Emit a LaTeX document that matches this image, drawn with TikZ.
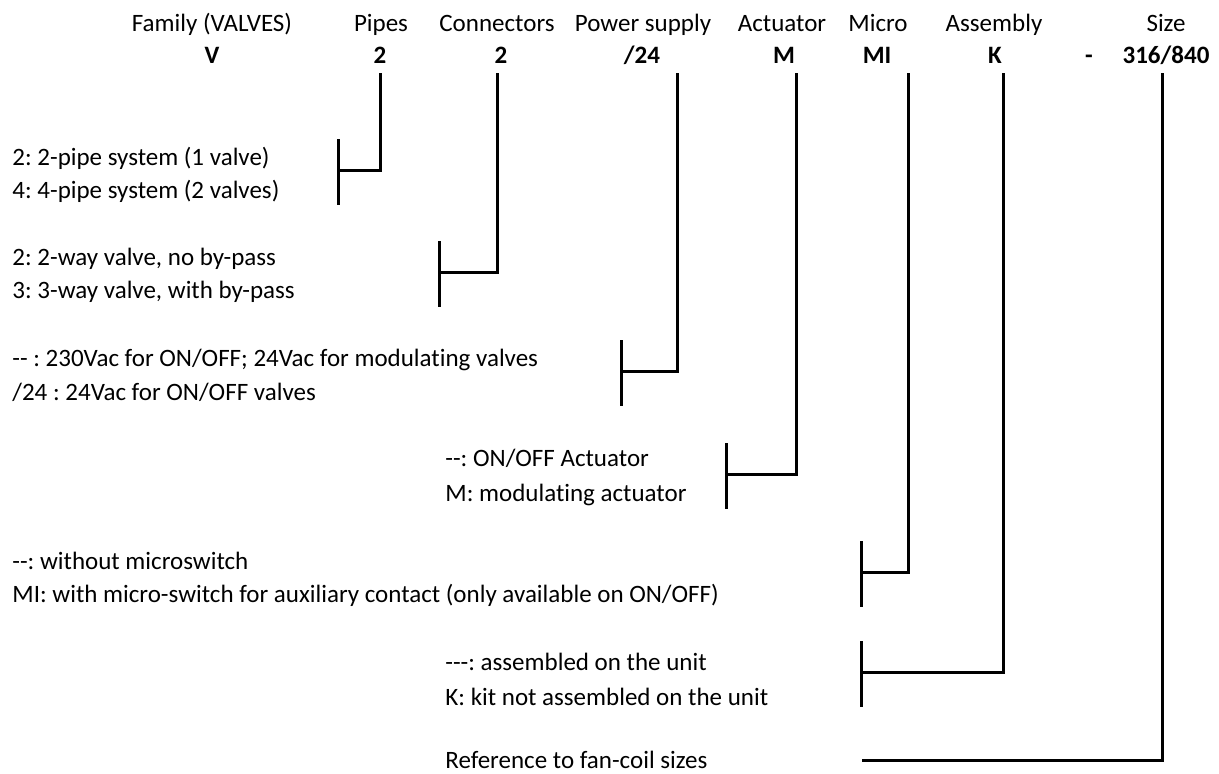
\documentclass[tikz,border=0pt]{standalone}
\usepackage{fontspec}
\setmainfont{Carlito}[Ligatures=NoCommon]
\newcommand\keysize{\fontsize{12.5}{15}\selectfont}
\tikzset{
  head/.style={anchor=base, inner sep=0pt},
  code/.style={font=\keysize\bfseries, anchor=base, text depth=0pt, inner xsep=0pt, inner ysep=5pt},
  opt/.style={anchor=base west, inner sep=0pt},
  link/.style={line width=1.5pt},
}

\begin{document}
\frenchspacing
\begin{tikzpicture}[x=0.5pt, y=-0.5pt, font=\keysize]
  \useasboundingbox (0,0) rectangle (1219,773);

  % column headings
  \node[head] (hFamily) at (212,31) {Family (VALVES)};
  \node[head] (hPipes)  at (381,31) {Pipes};
  \node[head] (hConn)   at (497,31) {Connectors};
  \node[head] (hPower)  at (643,31) {Power supply};
  \node[head] (hAct)    at (782,31) {Actuator};
  \node[head] (hMicro)  at (878,31) {Micro};
  \node[head] (hAsm)    at (994,31) {Assembly};
  \node[head] (hSize)   at (1166,31) {Size};

  % code letters
  \node[code] (cFamily) at (212,63) {V};
  \node[code] (cPipes)  at (380,63) {2};
  \node[code] (cConn)   at (501,63) {2};
  \node[code] (cPower)  at (642,63) {/24};
  \node[code] (cAct)    at (784,63) {M};
  \node[code] (cMicro)  at (877,63) {MI};
  \node[code] (cAsm)    at (995,63) {K};
  \node[code] (cDash)   at (1089,63) {-};
  \node[code] (cSize)   at (1166,63) {316/840};

  % options
  \node[opt] (oPipes2) at (12,165) {2: 2-pipe system (1 valve)};
  \node[opt] (oPipes4) at (12,198) {4: 4-pipe system (2 valves)};
  \node[opt] (oConn2)  at (12,265) {2: 2-way valve, no by-pass};
  \node[opt] (oConn3)  at (12,298) {3: 3-way valve, with by-pass};
  \node[opt] (oPowerA) at (12,366) {-{}- : 230Vac for ON/OFF; 24Vac for modulating valves};
  \node[opt] (oPowerB) at (12,400) {/24 : 24Vac for ON/OFF valves};
  \node[opt] (oActA)   at (445,466) {-{}-: ON/OFF Actuator};
  \node[opt] (oActM)   at (445,501) {M: modulating actuator};
  \node[opt] (oMicroA) at (12,569) {-{}-: without microswitch};
  \node[opt] (oMicroB) at (12,602) {MI: with micro-switch for auxiliary contact (only available on ON/OFF)};
  \node[opt] (oAsmA)   at (445,670) {-{}-{}-: assembled on the unit};
  \node[opt] (oAsmK)   at (445,705) {K: kit not assembled on the unit};
  \node[opt] (oSize)   at (445,768) {Reference to fan-coil sizes};

  % bracket points
  \coordinate (bPipes) at (338,170);
  \coordinate (bConn)  at (439,272);
  \coordinate (bPower) at (621,371);
  \coordinate (bAct)   at (726,474);
  \coordinate (bMicro) at (861,572);
  \coordinate (bAsm)   at (861,672);
  \coordinate (bSize)  at (862,760);

  % leaders
  \draw[link] (cPipes.south) |- (bPipes);
  \draw[link] (cConn.south) ++(-4,0) |- (bConn);
  \draw[link] (cPower.south) ++(35,0) |- (bPower);
  \draw[link] (cAct.south) ++(12,0) |- (bAct);
  \draw[link] (cMicro.south) ++(31,0) |- (bMicro);
  \draw[link] (cAsm.south) ++(8,0) |- (bAsm);
  \draw[link] (cSize.south) ++(-4,0) |- (bSize);
  \foreach \b in {bPipes,bConn,bPower,bAct,bMicro,bAsm}
    \draw[link] (\b) ++(0,-31) -- ++(0,66);
\end{tikzpicture}
\end{document}
